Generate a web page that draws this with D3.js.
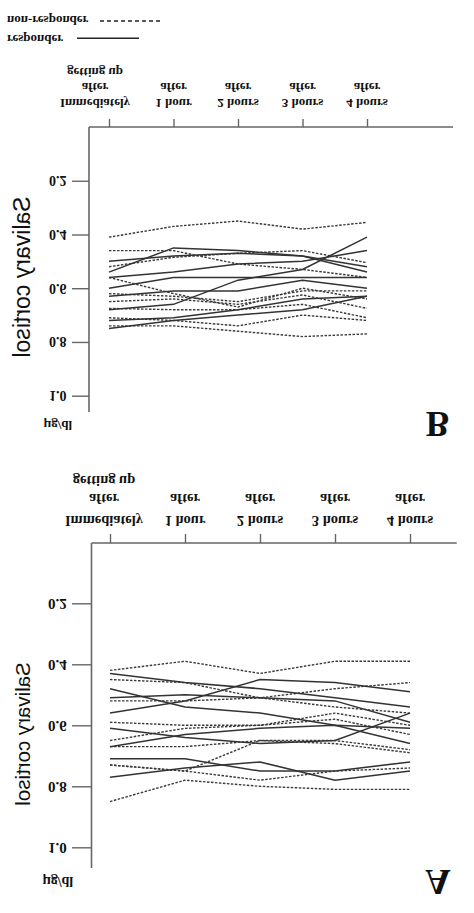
<!DOCTYPE html>
<html><head><meta charset="utf-8">
<script src="https://cdn.jsdelivr.net/npm/d3@7"></script>
<style>html,body{margin:0;padding:0;background:#fff;} svg{display:block}</style>
</head><body><svg id="c" width="474" height="913"></svg>
<script>
// ---------- DATA ----------
const timepoints = ["Immediately after getting up", "1 hour after", "2 hours after", "3 hours after", "4 hours after"];
const timeLabelLines = [["Immediately", "after", "getting up"], ["1 hour", "after"], ["2 hours", "after"], ["3 hours", "after"], ["4 hours", "after"]];
const yTickValues = [0.2, 0.4, 0.6, 0.8, 1.0];
const yTitle = "Salivary cortisol";
const yUnit = "μg/dl";
const legendLabels = ["non-responder", "responder"];

// Panel A (salivary cortisol, µg/dl, at the five time points)
const panelA_responder = [
  [0.43, 0.46, 0.48, 0.51, 0.54],
  [0.56, 0.52, 0.45, 0.46, 0.49],
  [0.48, 0.54, 0.56, 0.60, 0.66],
  [0.51, 0.50, 0.51, 0.52, 0.59],
  [0.61, 0.64, 0.66, 0.65, 0.56],
  [0.67, 0.63, 0.61, 0.60, 0.61],
  [0.71, 0.71, 0.75, 0.75, 0.72],
  [0.77, 0.74, 0.72, 0.78, 0.75]
];
const panelA_nonresponder = [
  [0.42, 0.39, 0.43, 0.39, 0.39],
  [0.45, 0.46, 0.51, 0.54, 0.56],
  [0.52, 0.52, 0.51, 0.48, 0.46],
  [0.59, 0.60, 0.60, 0.56, 0.60],
  [0.65, 0.61, 0.60, 0.58, 0.63],
  [0.67, 0.67, 0.65, 0.65, 0.68],
  [0.73, 0.75, 0.65, 0.66, 0.69],
  [0.73, 0.75, 0.78, 0.75, 0.74],
  [0.85, 0.78, 0.80, 0.81, 0.81]
];
// Panel B
const panelB_responder = [
  [0.50, 0.48, 0.47, 0.48, 0.52],
  [0.54, 0.45, 0.46, 0.48, 0.54],
  [0.56, 0.54, 0.51, 0.50, 0.46],
  [0.60, 0.56, 0.56, 0.56, 0.56],
  [0.63, 0.61, 0.61, 0.57, 0.60],
  [0.68, 0.66, 0.57, 0.53, 0.41],
  [0.72, 0.71, 0.68, 0.64, 0.63],
  [0.75, 0.72, 0.70, 0.68, 0.63]
];
const panelB_nonresponder = [
  [0.41, 0.37, 0.35, 0.38, 0.355],
  [0.46, 0.46, 0.51, 0.53, 0.56],
  [0.52, 0.485, 0.47, 0.46, 0.505],
  [0.56, 0.62, 0.67, 0.60, 0.64],
  [0.62, 0.63, 0.65, 0.61, 0.61],
  [0.65, 0.64, 0.66, 0.625, 0.675],
  [0.675, 0.68, 0.68, 0.66, 0.71],
  [0.71, 0.72, 0.74, 0.70, 0.72],
  [0.74, 0.74, 0.76, 0.78, 0.77]
];

// ---------- LAYOUT ----------
const SERIF = "'Liberation Serif','Times New Roman',serif";
const SANS = "'Liberation Sans',Arial,sans-serif";
const svg = d3.select("#c");

// text helper: the whole figure is shown mirrored upside-down
function ftext(g, x, y, str, o) {
  return g.append("text")
    .attr("transform", `translate(${x},${y}) scale(1,-1)` + (o.rotate ? ` rotate(${o.rotate})` : ""))
    .attr("text-anchor", o.anchor || "start")
    .attr("dominant-baseline", o.baseline || "alphabetic")
    .attr("font-family", o.family || SERIF)
    .attr("font-weight", o.weight || "bold")
    .attr("font-size", o.size)
    .attr("fill", "#111")
    .text(str);
}

const panels = [
  { letter: "B", resp: panelB_responder, non: panelB_nonresponder,
    axY: 127, axX: 89, xEnd: 453, yEnd: 412, xr: [109, 367], yr: [127, 395.7],
    tick: 8, ytick: 17, tickRight: 66.5, tickFont: 14, labSize: 13,
    labBase: [98.5, 83, 67.5], firstOff: -14,
    title: { x: 22, y: 277, size: 23 }, unit: { x: 58, y: 421, size: 13 },
    let: { x: 437.5, y: 412, size: 35 } },
  { letter: "A", resp: panelA_responder, non: panelA_nonresponder,
    axY: 543, axX: 91.5, xEnd: 456.7, yEnd: 868, xr: [110, 410], yr: [542.3, 847.3],
    tick: 9, ytick: 19.5, tickRight: 66.7, tickFont: 15, labSize: 14.5,
    labBase: [515.5, 494, 476], firstOff: -6,
    title: { x: 22, y: 734, size: 20.5 }, unit: { x: 58, y: 877, size: 14 },
    let: { x: 438, y: 869.5, size: 35 } }
];

const AXIS = "#666";
panels.forEach(p => {
  const g = svg.append("g");
  const x = d3.scalePoint().domain(timepoints).range(p.xr);
  const y = d3.scaleLinear().domain([0, 1]).range(p.yr);

  // axis lines
  g.append("line").attr("x1", p.axX).attr("x2", p.xEnd).attr("y1", p.axY).attr("y2", p.axY)
    .attr("stroke", AXIS).attr("stroke-width", 1.6);
  g.append("line").attr("x1", p.axX).attr("x2", p.axX).attr("y1", p.axY).attr("y2", p.yEnd)
    .attr("stroke", AXIS).attr("stroke-width", 1.6);

  // x ticks (pointing away from plot)
  const xa = g.append("g").attr("transform", `translate(0,${p.axY})`)
    .call(d3.axisTop(x).tickSize(p.tick).tickSizeOuter(0).tickFormat(""));
  xa.select(".domain").remove();
  xa.selectAll("line").attr("stroke", AXIS).attr("stroke-width", 1.4);

  // y ticks
  const ya = g.append("g").attr("transform", `translate(${p.axX},0)`)
    .call(d3.axisLeft(y).tickValues(yTickValues).tickSize(p.ytick).tickSizeOuter(0).tickFormat(d3.format(".1f")));
  ya.select(".domain").remove();
  ya.selectAll("line").attr("stroke", AXIS).attr("stroke-width", 1.4);
  ya.selectAll("text")
    .attr("x", null).attr("dy", null)
    .attr("transform", `translate(${p.tickRight - p.axX},-5) scale(1,-1)`)
    .attr("text-anchor", "end")
    .attr("font-family", SERIF).attr("font-weight", "bold").attr("font-size", p.tickFont)
    .attr("fill", "#111");

  // x labels
  timeLabelLines.forEach((lines, i) => {
    const cx = x(timepoints[i]) + (i === 0 ? p.firstOff : 0);
    lines.forEach((ln, j) => ftext(g, cx, p.labBase[j], ln, { size: p.labSize, anchor: "middle" }));
  });

  // y title and unit
  ftext(g, p.title.x, p.title.y, yTitle, { size: p.title.size, anchor: "middle", baseline: "central",
    family: SANS, weight: "normal", rotate: -90 });
  ftext(g, p.unit.x, p.unit.y, yUnit, { size: p.unit.size, anchor: "middle" });
  ftext(g, p.let.x, p.let.y, p.letter, { size: p.let.size, anchor: "middle" });

  // data lines
  const line = d3.line().x((d, i) => x(timepoints[i])).y(d => y(d));
  g.append("g").selectAll("path").data(p.non).join("path")
    .attr("d", line).attr("fill", "none").attr("stroke", "#3a3a3a")
    .attr("stroke-width", 1.4).attr("stroke-dasharray", "2.5,1.5");
  g.append("g").selectAll("path").data(p.resp).join("path")
    .attr("d", line).attr("fill", "none").attr("stroke", "#333")
    .attr("stroke-width", 1.5);
});

// legend
const lg = svg.append("g");
ftext(lg, 7, 16, legendLabels[0], { size: 13 });
ftext(lg, 7, 34.5, legendLabels[1], { size: 13 });
lg.append("line").attr("x1", 100).attr("x2", 163).attr("y1", 21).attr("y2", 21)
  .attr("stroke", "#222").attr("stroke-width", 1.3).attr("stroke-dasharray", "4,3");
lg.append("line").attr("x1", 77).attr("x2", 139).attr("y1", 38.3).attr("y2", 38.3)
  .attr("stroke", "#222").attr("stroke-width", 1.5);
</script></body></html>
